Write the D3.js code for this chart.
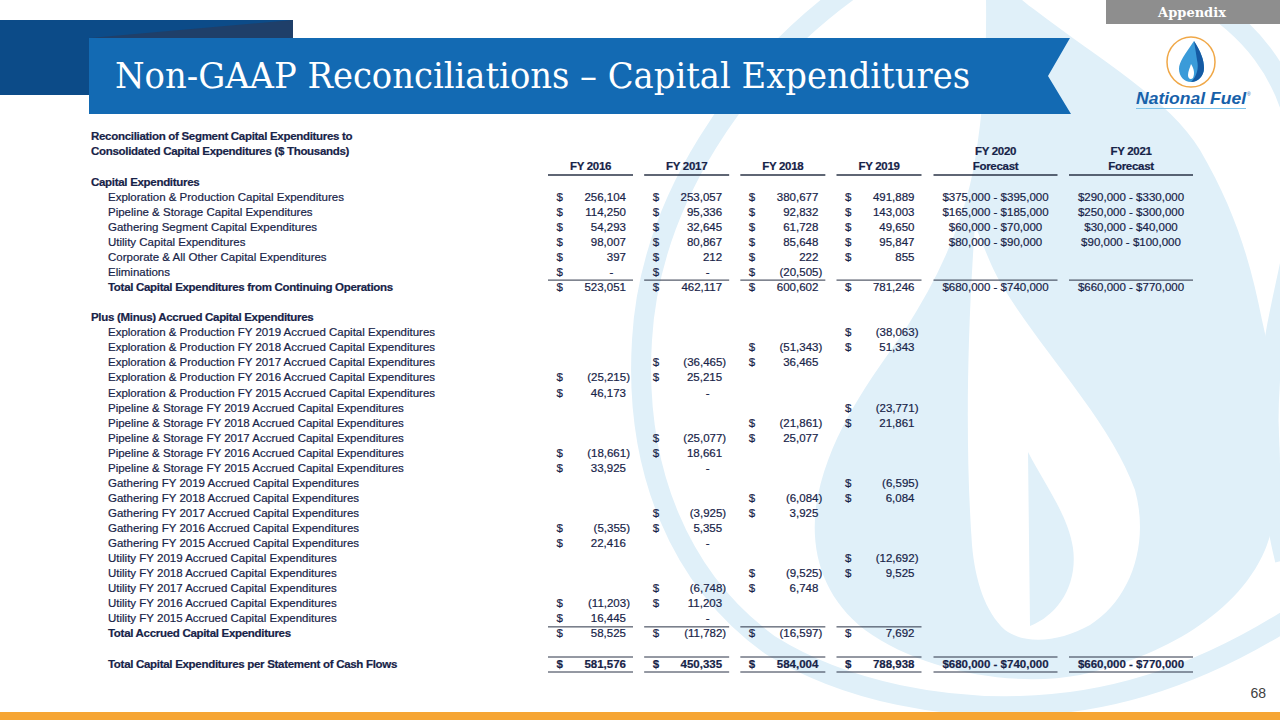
<!DOCTYPE html>
<html>
<head>
<meta charset="utf-8">
<script src="https://cdn.jsdelivr.net/npm/d3@7"></script>
<style>
body { margin: 0; background: #fff; }
svg { display: block; }
text { font-family: "Liberation Sans", Arial, sans-serif; }
</style>
</head>
<body>
<svg width="1280" height="720"></svg>
<script>
// table data ($ thousands)
var years = ["FY 2016", "FY 2017", "FY 2018", "FY 2019"];
var forecastHeads = ["FY 2020", "FY 2021"];

var capexLabels = ["Exploration & Production Capital Expenditures", "Pipeline & Storage Capital Expenditures",
  "Gathering Segment Capital Expenditures", "Utility Capital Expenditures",
  "Corporate & All Other Capital Expenditures", "Eliminations"];
var capex2016 = [256104, 114250, 54293, 98007, 397, 0];
var capex2017 = [253057, 95336, 32645, 80867, 212, 0];
var capex2018 = [380677, 92832, 61728, 85648, 222, -20505];
var capex2019 = [491889, 143003, 49650, 95847, 855, null];
var capexTotals = [523051, 462117, 600602, 781246];
var forecast2020 = [[375000, 395000], [165000, 185000], [60000, 70000], [80000, 90000], null, null];
var forecast2021 = [[290000, 330000], [250000, 300000], [30000, 40000], [90000, 100000], null, null];
var forecastTotals = [[680000, 740000], [660000, 770000]];

var accruedSegments = ["Exploration & Production", "Pipeline & Storage", "Gathering", "Utility"];
var accruedYears = [2019, 2018, 2017, 2016, 2015];
var accrued2016 = [null, null, null, -25215, 46173, null, null, null, -18661, 33925,
  null, null, null, -5355, 22416, null, null, null, -11203, 16445];
var accrued2017 = [null, null, -36465, 25215, 0, null, null, -25077, 18661, 0,
  null, null, -3925, 5355, 0, null, null, -6748, 11203, 0];
var accrued2018 = [null, -51343, 36465, null, null, null, -21861, 25077, null, null,
  null, -6084, 3925, null, null, null, -9525, 6748, null, null];
var accrued2019 = [-38063, 51343, null, null, null, -23771, 21861, null, null, null,
  -6595, 6084, null, null, null, -12692, 9525, null, null, null];
var accruedTotals = [58525, -11782, -16597, 7692];
var cashFlowTotals = [581576, 450335, 584004, 788938];

var ink = "#172348";
var svg = d3.select("svg");
var fmt = d3.format(",");

// ---- background watermark (faint flame) ----
var wm = svg.append("g");
var wmColor = "#e0f0f9";
wm.append("path")
  .attr("d", "M 850,-10 C 740,70 650,200 642,340 C 634,470 680,580 770,645 C 850,695 950,708 1020,706 C 1120,704 1210,670 1295,615")
  .attr("fill", "none").attr("stroke", wmColor).attr("stroke-width", 20);
wm.append("path")
  .attr("d", "M 1195,-5 C 1245,25 1290,70 1300,150 C 1308,230 1275,300 1270,380 C 1266,440 1270,500 1285,560")
  .attr("fill", "none").attr("stroke", wmColor).attr("stroke-width", 20);
wm.append("path")
  .attr("d", "M 985,-40 C 1000,-20 1020,0 1035,10 C 1100,60 1170,100 1200,150 C 1235,210 1250,260 1262,320 C 1285,420 1285,500 1265,550 C 1235,620 1150,660 1080,675 C 1010,688 920,670 865,630 C 820,595 808,545 818,495 C 832,430 870,380 905,330 C 940,275 965,220 975,160 C 985,100 988,40 985,-40 Z")
  .attr("fill", wmColor);
wm.append("path")
  .attr("d", "M 975,225 C 985,250 992,268 1000,282 C 1040,350 1110,420 1135,490 C 1150,545 1130,600 1090,625 C 1060,642 1025,645 1005,630 C 985,612 975,580 972,545 C 966,460 966,350 975,225 Z")
  .attr("fill", "#fff");
wm.append("path")
  .attr("d", "M 1028,452 C 1045,485 1068,515 1073,548 C 1078,585 1058,615 1030,626 Z")
  .attr("fill", wmColor);

// ---- header ----
svg.append("rect").attr("x", 0).attr("y", 20).attr("width", 293).attr("height", 75).attr("fill", "#0c4b88");
svg.append("path").attr("d", "M 90,38 L 293,20 L 293,38 Z").attr("fill", "#1f3f69");
svg.append("path")
  .attr("d", "M 89,38 L 1070,38 L 1048,76 L 1071,114 L 89,114 Z")
  .attr("fill", "#136ab3");
svg.append("text")
  .attr("x", 115).attr("y", 88)
  .attr("textLength", 855).attr("lengthAdjust", "spacingAndGlyphs")
  .style("font-family", "'DejaVu Serif', serif").style("font-size", "35px")
  .attr("fill", "#fff")
  .text("Non-GAAP Reconciliations \u2013 Capital Expenditures");

svg.append("rect").attr("x", 1106).attr("y", 0).attr("width", 174).attr("height", 24).attr("fill", "#8e8e8e");
svg.append("text").attr("x", 1192).attr("y", 17).attr("text-anchor", "middle")
  .style("font-family", "'DejaVu Serif', serif").style("font-size", "13px").style("font-weight", "bold")
  .attr("fill", "#fff").text("Appendix");

// logo
var logo = svg.append("g").attr("transform", "translate(1191,62)");
logo.append("ellipse").attr("rx", 24).attr("ry", 25).attr("fill", "#fff")
  .attr("stroke", "#f0a848").attr("stroke-width", 1.5);
logo.append("path")
  .attr("d", "M 3,-21 C 10,-10 13,-2 13,6 C 13,14 7,20 0,20 C -7,20 -12,14 -12,7 C -12,0 -6,-8 3,-21 Z")
  .attr("fill", "#3a9bd9");
logo.append("path")
  .attr("d", "M 3,-21 C 10,-10 13,-2 13,6 C 13,14 7,20 0,20 C 6,14 8,6 6,-2 C 5,-9 4,-15 3,-21 Z")
  .attr("fill", "#155aa3");
logo.append("path")
  .attr("d", "M 0,2 C 3,7 4,11 2,16 C 0,18 -3,17 -3,13 C -3,9 -1,6 0,2 Z")
  .attr("fill", "#fff");
svg.append("text").attr("x", 1136).attr("y", 104)
  .attr("textLength", 110).attr("lengthAdjust", "spacingAndGlyphs")
  .style("font-size", "17px").style("font-weight", "bold").style("font-style", "italic")
  .attr("fill", "#1761aa").text("National Fuel");
svg.append("text").attr("x", 1247).attr("y", 96).style("font-size", "5px").attr("fill", "#1761aa").text("\u00ae");
svg.append("line").attr("x1", 1136).attr("x2", 1246).attr("y1", 108.5).attr("y2", 108.5)
  .attr("stroke", "#7cc3ea").attr("stroke-width", 1.2);

// ---- footer ----
svg.append("rect").attr("x", 0).attr("y", 712).attr("width", 1280).attr("height", 8).attr("fill", "#f6a533");
svg.append("text").attr("x", 1266).attr("y", 698).attr("text-anchor", "end")
  .style("font-size", "14px").attr("fill", "#404040").text("68");

// ---- table ----
var rowY = d3.scaleLinear().domain([0, 32]).range([181.7, 663.5]);
var colX = d3.scaleLinear().domain([0, 3]).range([590.5, 879]);
var fcX = d3.scaleOrdinal().domain(forecastHeads).range([995.5, 1131]);
var colHalf = 42.5, fcHalf = 62;

var tbl = svg.append("g").style("font-size", "11.5px").attr("fill", ink)
  .attr("stroke", ink).attr("stroke-width", 0.2);

function label(row, txt, indent, bold) {
  tbl.append("text").attr("x", indent ? 108 : 91).attr("y", rowY(row)).attr("dy", "0.35em")
    .style("font-weight", bold ? "bold" : null)
    .style("letter-spacing", bold ? "-0.3px" : null)
    .text(txt);
}

function money(col, row, v, dollarOnZero, bold) {
  if (v == null) return;
  var x = colX(col), y = rowY(row);
  var w = bold ? "bold" : null;
  if (v !== 0 || dollarOnZero) {
    tbl.append("text").attr("x", x - 34).attr("y", y).attr("dy", "0.35em").style("font-weight", w).text("$");
  }
  var t = tbl.append("text").attr("y", y).attr("dy", "0.35em").style("font-weight", w);
  if (v === 0) t.attr("x", x + 21).attr("text-anchor", "middle").text("-");
  else if (v < 0) t.attr("x", x + 39.5).attr("text-anchor", "end").text("(" + fmt(-v) + ")");
  else t.attr("x", x + 35.5).attr("text-anchor", "end").text(fmt(v));
}

function range(name, row, r, bold) {
  if (!r) return;
  tbl.append("text").attr("x", fcX(name)).attr("y", rowY(row)).attr("dy", "0.35em")
    .attr("text-anchor", "middle").style("font-weight", bold ? "bold" : null)
    .text("$" + fmt(r[0]) + " - $" + fmt(r[1]));
}

function rule(y, cols, withForecast, width) {
  cols.forEach(function (c) {
    tbl.append("line").attr("x1", colX(c) - colHalf).attr("x2", colX(c) + colHalf)
      .attr("y1", y).attr("y2", y).attr("stroke", "#2a3346").attr("stroke-width", width || 1);
  });
  if (withForecast) forecastHeads.forEach(function (f) {
    tbl.append("line").attr("x1", fcX(f) - fcHalf).attr("x2", fcX(f) + fcHalf)
      .attr("y1", y).attr("y2", y).attr("stroke", "#2a3346").attr("stroke-width", width || 1);
  });
}

// title lines and headers
tbl.append("text").attr("x", 91).attr("y", 136).attr("dy", "0.35em").style("font-weight", "bold")
  .style("letter-spacing", "-0.3px").text("Reconciliation of Segment Capital Expenditures to");
tbl.append("text").attr("x", 91).attr("y", 151).attr("dy", "0.35em").style("font-weight", "bold")
  .style("letter-spacing", "-0.3px").text("Consolidated Capital Expenditures ($ Thousands)");
years.forEach(function (yr, i) {
  tbl.append("text").attr("x", colX(i)).attr("y", 166).attr("dy", "0.35em").attr("text-anchor", "middle")
    .style("font-weight", "bold").style("letter-spacing", "-0.3px").text(yr);
});
forecastHeads.forEach(function (f) {
  tbl.append("text").attr("x", fcX(f)).attr("y", 151).attr("dy", "0.35em").attr("text-anchor", "middle")
    .style("font-weight", "bold").style("letter-spacing", "-0.3px").text(f);
  tbl.append("text").attr("x", fcX(f)).attr("y", 166).attr("dy", "0.35em").attr("text-anchor", "middle")
    .style("font-weight", "bold").style("letter-spacing", "-0.3px").text("Forecast");
});
rule(175, [0, 1, 2, 3], true, 1.6);

// capital expenditures block
label(0, "Capital Expenditures", false, true);
var capexCols = [capex2016, capex2017, capex2018, capex2019];
capexLabels.forEach(function (lb, i) {
  label(i + 1, lb, true, false);
  capexCols.forEach(function (arr, c) { money(c, i + 1, arr[i], true, false); });
  range("FY 2020", i + 1, forecast2020[i]);
  range("FY 2021", i + 1, forecast2021[i]);
});
rule(rowY(7) - 7, [0, 1, 2, 3], true);
label(7, "Total Capital Expenditures from Continuing Operations", true, true);
capexTotals.forEach(function (v, c) { money(c, 7, v, true, false); });
forecastHeads.forEach(function (f, j) { range(f, 7, forecastTotals[j]); });

// accrued block
label(9, "Plus (Minus) Accrued Capital Expenditures", false, true);
var accruedCols = [accrued2016, accrued2017, accrued2018, accrued2019];
var r = 10;
accruedSegments.forEach(function (seg, s) {
  accruedYears.forEach(function (yr, k) {
    var idx = s * accruedYears.length + k;
    label(r, seg + " FY " + yr + " Accrued Capital Expenditures", true, false);
    accruedCols.forEach(function (arr, c) { money(c, r, arr[idx], false, false); });
    r++;
  });
});
rule(rowY(30) - 6.5, [0, 1, 2, 3], false);
label(30, "Total Accrued Capital Expenditures", true, true);
accruedTotals.forEach(function (v, c) { money(c, 30, v, true, false); });

// cash flow total
rule(rowY(32) - 6.5, [0, 1, 2, 3], true);
label(32, "Total Capital Expenditures per Statement of Cash Flows", true, true);
cashFlowTotals.forEach(function (v, c) { money(c, 32, v, true, true); });
forecastHeads.forEach(function (f, j) { range(f, 32, forecastTotals[j], true); });
rule(rowY(32) + 8.5, [0, 1, 2, 3], true);
</script>
</body>
</html>
